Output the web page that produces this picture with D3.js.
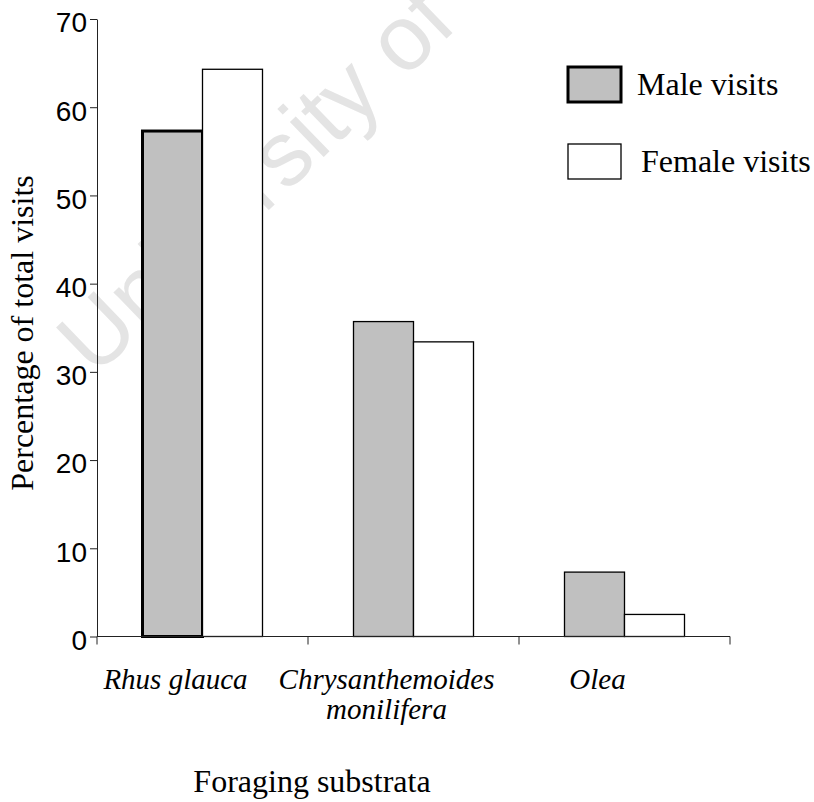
<!DOCTYPE html>
<html>
<head>
<meta charset="utf-8">
<script src="https://cdn.jsdelivr.net/npm/d3@7"></script>
<style>
  body { margin: 0; background: #fff; }
</style>
</head>
<body>
<script>
"use strict";

const width = 814;
const height = 802;

// data
const categories = ["Rhus glauca", "Chrysanthemoides monilifera", "Olea"];
const categoryLines = [["Rhus glauca"], ["Chrysanthemoides", "monilifera"], ["Olea"]];
const series = ["Male visits", "Female visits"];
const maleVisits = [57.3, 35.7, 7.3];
const femaleVisits = [64.3, 33.4, 2.5];
const yTicks = [0, 10, 20, 30, 40, 50, 60, 70];

const fills = ["#c0c0c0", "#ffffff"];
const serif = "'Liberation Serif', 'Times New Roman', serif";
const sans = "'Liberation Sans', Arial, sans-serif";

const svg = d3
  .select("body")
  .append("svg")
  .attr("width", width)
  .attr("height", height);

// faint watermark behind the plot
svg
  .append("text")
  .text("University of Cape Town")
  .attr("transform", "translate(95,378) rotate(-44)")
  .attr("font-family", sans)
  .attr("font-size", 92)
  .attr("fill", "#e4e4e4");

const x = d3.scaleBand().domain(categories).range([97, 730]).padding(0);
const xSub = d3
  .scaleBand()
  .domain(series)
  .range([x.bandwidth() / 2 - 60, x.bandwidth() / 2 + 60]);
const y = d3.scaleLinear().domain([0, 70]).range([636.5, 19]);

const rows = categories.map(function (c, i) {
  return { cat: c, values: [maleVisits[i], femaleVisits[i]] };
});

// bars
const groups = svg
  .selectAll("g.cat")
  .data(rows)
  .enter()
  .append("g")
  .attr("class", "cat")
  .attr("transform", function (d) {
    return "translate(" + x(d.cat) + ",0)";
  });

groups
  .selectAll("rect")
  .data(function (d, i) {
    return d.values.map(function (v, j) {
      return { s: series[j], v: v, ci: i, si: j };
    });
  })
  .enter()
  .append("rect")
  .attr("x", function (d) {
    return xSub(d.s);
  })
  .attr("y", function (d) {
    return y(d.v);
  })
  .attr("width", xSub.bandwidth())
  .attr("height", function (d) {
    return y(0) - y(d.v);
  })
  .attr("fill", function (d) {
    return fills[d.si];
  })
  .attr("stroke", "#000")
  .attr("stroke-width", function (d) {
    // the first male bar has a heavier outline in the original
    return d.ci === 0 && d.si === 0 ? 3 : 1.3;
  });

// y axis
const yAxis = svg
  .append("g")
  .attr("transform", "translate(97,0)")
  .call(d3.axisLeft(y).tickValues(yTicks).tickSize(7).tickSizeOuter(0).tickPadding(3));
yAxis.select(".domain").attr("stroke", "#222");
yAxis.selectAll(".tick line").attr("stroke", "#222");
yAxis
  .selectAll(".tick text")
  .attr("font-family", sans)
  .attr("font-size", 28)
  .attr("fill", "#000")
  .attr("dy", "0.46em");

// x axis: ticks on the category boundaries
const edges = [x.range()[0]].concat(
  categories.map(function (d) {
    return x(d) + x.bandwidth();
  })
);
const xAxis = svg
  .append("g")
  .attr("transform", "translate(0," + y(0) + ")");
xAxis
  .append("line")
  .attr("x1", x.range()[0])
  .attr("x2", x.range()[1])
  .attr("stroke", "#222");
xAxis
  .selectAll("line.tick")
  .data(edges)
  .enter()
  .append("line")
  .attr("class", "tick")
  .attr("x1", function (d) {
    return d;
  })
  .attr("x2", function (d) {
    return d;
  })
  .attr("y1", 0)
  .attr("y2", 8)
  .attr("stroke", "#222");

// category labels
const labels = svg
  .selectAll("text.cat")
  .data(categoryLines)
  .enter()
  .append("text")
  .attr("class", "cat")
  .attr("text-anchor", "middle")
  .attr("font-family", serif)
  .attr("font-style", "italic")
  .attr("font-size", 29)
  .attr("y", 689);
labels
  .selectAll("tspan")
  .data(function (d, i) {
    return d.map(function (line) {
      return { line: line, ci: i };
    });
  })
  .enter()
  .append("tspan")
  .attr("x", function (d) {
    return x(categories[d.ci]) + x.bandwidth() / 2 - 27;
  })
  .attr("dy", function (d, j) {
    return j === 0 ? 0 : 30;
  })
  .text(function (d) {
    return d.line;
  });

// axis titles
svg
  .append("text")
  .text("Foraging substrata")
  .attr("x", 312)
  .attr("y", 792)
  .attr("text-anchor", "middle")
  .attr("font-family", serif)
  .attr("font-size", 32);

svg
  .append("text")
  .text("Percentage of total visits")
  .attr("transform", "translate(33,333) rotate(-90)")
  .attr("text-anchor", "middle")
  .attr("font-family", serif)
  .attr("font-size", 32);

// legend
const legend = svg
  .selectAll("g.legend")
  .data(series)
  .enter()
  .append("g")
  .attr("class", "legend")
  .attr("transform", function (d, i) {
    return "translate(568," + (67 + i * 77) + ")";
  });
legend
  .append("rect")
  .attr("width", 53)
  .attr("height", 35)
  .attr("fill", function (d, i) {
    return fills[i];
  })
  .attr("stroke", "#000")
  .attr("stroke-width", function (d, i) {
    return i === 0 ? 3 : 1.3;
  });
legend
  .append("text")
  .text(function (d) {
    return d;
  })
  .attr("x", function (d, i) {
    return i === 0 ? 69 : 73;
  })
  .attr("y", 28)
  .attr("font-family", serif)
  .attr("font-size", 32);
</script>
</body>
</html>
